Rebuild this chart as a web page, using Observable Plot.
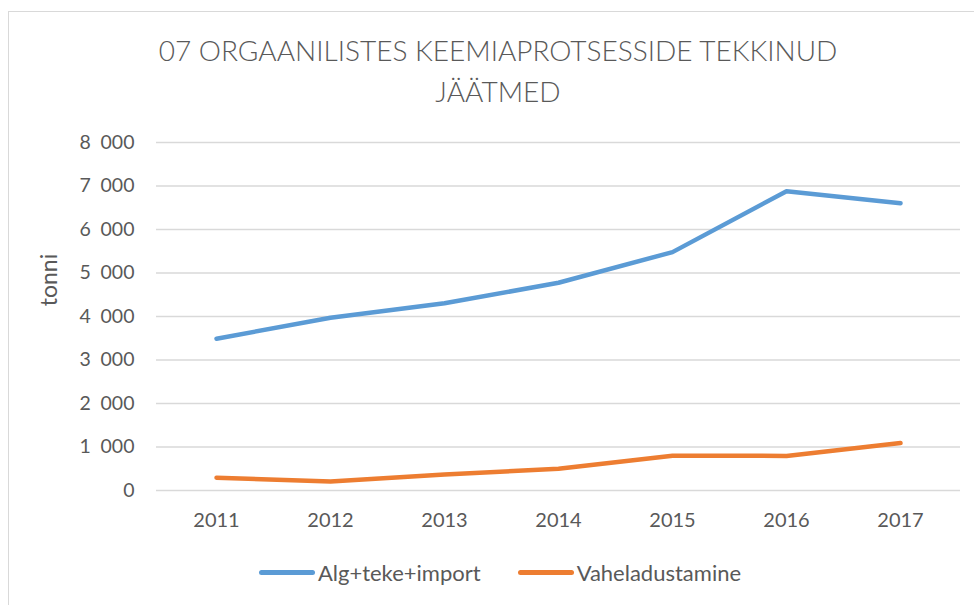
<!DOCTYPE html>
<html>
<head>
<meta charset="utf-8">
<script src="https://cdn.jsdelivr.net/npm/d3@7"></script>
<script src="https://cdn.jsdelivr.net/npm/@observablehq/plot@0.6"></script>
<style>
  body { margin: 0; background: #fff; font-family: Lato, "Noto Sans", sans-serif; }
  #wrap { position: relative; width: 974px; height: 605px; overflow: hidden; }
  #frame { position: absolute; left: 8px; top: 11px; width: 1000px; height: 700px; border: 1px solid #d9d9d9; }
  #title { position: absolute; left: 0; top: 30px; width: 996px; text-align: center; font-size: 28px; line-height: 41px; color: #595959; font-weight: 300; }
  #chart { position: absolute; left: 0; top: 120px; }
  #ylabel { position: absolute; left: 48px; top: 280px; transform: translate(-50%, -50%) rotate(-90deg); font-size: 23px; color: #595959; white-space: nowrap; }
  #legend { position: absolute; top: 559px; left: 0; width: 1000px; display: flex; justify-content: center; gap: 37px; font-size: 22px; color: #595959; }
  .item { display: flex; align-items: center; }
  .sw { width: 56px; height: 5px; border-radius: 3px; margin-right: 3px; }
</style>
</head>
<body>
<div id="wrap">
  <div id="frame"></div>
  <div id="title">07 ORGAANILISTES KEEMIAPROTSESSIDE TEKKINUD<br>JÄÄTMED</div>
  <div id="ylabel">tonni</div>
  <div id="chart"></div>
  <div id="legend"></div>
</div>
<script>
const years = ["2011", "2012", "2013", "2014", "2015", "2016", "2017"];
const algTekeImport = [3490, 3970, 4305, 4775, 5480, 6880, 6605];
const vaheladustamine = [292, 207, 370, 499, 800, 795, 1090];
const seriesNames = ["Alg+teke+import", "Vaheladustamine"];
const seriesColors = ["#5B9BD5", "#ED7D31"];
const yTicks = [0, 1000, 2000, 3000, 4000, 5000, 6000, 7000, 8000];

const data = [];
years.forEach((y, i) => {
  data.push({year: y, value: algTekeImport[i], series: seriesNames[0]});
  data.push({year: y, value: vaheladustamine[i], series: seriesNames[1]});
});

const fmt = d => d3.format(",")(d).replace(/,/g, "\u2002");

const chart = Plot.plot({
  width: 974,
  height: 430,
  marginTop: 22,
  marginBottom: 60,
  marginLeft: 156,
  marginRight: 14,
  style: {fontFamily: "Lato, 'Noto Sans', sans-serif", fontSize: "19px", color: "#595959", background: "transparent"},
  x: {type: "point", domain: years, padding: 0.5, label: null},
  y: {domain: [0, 8000], label: null},
  color: {domain: seriesNames, range: seriesColors},
  marks: [
    Plot.gridY(yTicks, {stroke: "#d9d9d9", strokeOpacity: 1, strokeWidth: 1.5}),
    Plot.axisY(yTicks, {tickSize: 0, tickPadding: 22, tickFormat: fmt, fill: "#595959", fontSize: 19.5}),
    Plot.axisX(years, {tickSize: 0, tickPadding: 22, fill: "#595959", fontSize: 20}),
    Plot.line(data, {x: "year", y: "value", z: "series", stroke: "series", strokeWidth: 4.5, strokeLinecap: "round", strokeLinejoin: "round"})
  ]
});
document.getElementById("chart").appendChild(chart);

const legend = document.getElementById("legend");
seriesNames.forEach((n, i) => {
  const it = document.createElement("div");
  it.className = "item";
  it.innerHTML = `<span class="sw" style="background:${seriesColors[i]}"></span><span>${n}</span>`;
  legend.appendChild(it);
});
</script>
</body>
</html>
